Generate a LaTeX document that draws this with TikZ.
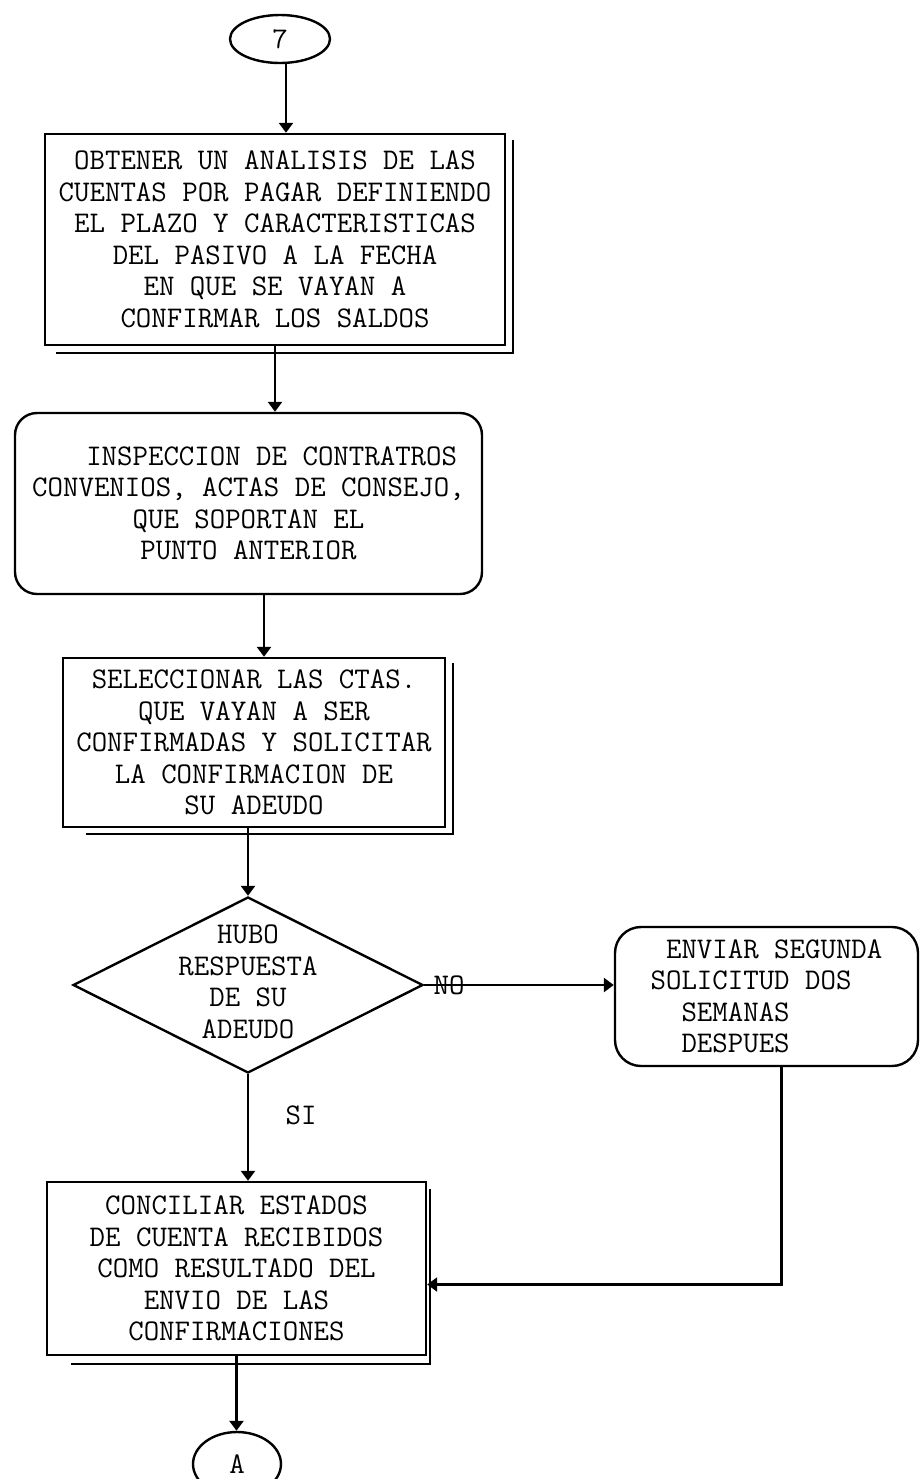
\documentclass[tikz,border=0pt]{standalone}
\usepackage{fontspec}
\usetikzlibrary{shapes.geometric, arrows.meta, calc}

\begin{document}
\begin{tikzpicture}[x=0.5pt, y=-0.5pt,
  every node/.style={font=\ttfamily\fontsize{15}{15.75}\selectfont},
  flow/.style={draw, line width=1.2pt, inner sep=0pt, align=center},
  proc/.style={flow, rectangle},
  rproc/.style={flow, rectangle, rounded corners=11pt},
  decision/.style={flow, diamond},
  term/.style={flow, ellipse},
  arrow/.style={line width=1.2pt, -{Triangle[length=5pt,width=7pt]}},
  shadowline/.style={line width=1.2pt},
]
\useasboundingbox (0,0) rectangle (921,1479);
\clip (0,0) rectangle (921,1479);

% connector in
\node[term, minimum width=50pt, minimum height=24pt] (c7) at (280,39) {7};

% process steps
\node[proc, minimum width=230pt, minimum height=105.5pt] (b1) at (275,239.5)
  {OBTENER UN ANALISIS DE LAS\\CUENTAS POR PAGAR DEFINIENDO\\EL PLAZO Y CARACTERISTICAS\\DEL PASIVO A LA FECHA\\EN QUE SE VAYAN A\\CONFIRMAR LOS SALDOS};

\node[rproc, minimum width=233.5pt, minimum height=90.5pt] (b2) at (248.5,503.5)
  {\phantom{XXX}INSPECCION DE CONTRATROS\\CONVENIOS, ACTAS DE CONSEJO,\\QUE SOPORTAN EL\\PUNTO ANTERIOR};

\node[proc, minimum width=191pt, minimum height=84.5pt] (b3) at (254,742.5)
  {SELECCIONAR LAS CTAS.\\QUE VAYAN A SER\\CONFIRMADAS Y SOLICITAR\\LA CONFIRMACION DE\\SU ADEUDO};

% decision
\node[decision, minimum width=175pt, minimum height=88pt] (d) at (248,985)
  {\raisebox{-3.5pt}[0pt][0pt]{\makebox[0pt]{\begin{tabular}{@{}c@{}}HUBO\\RESPUESTA\\DE SU\\ADEUDO\end{tabular}}}};

\node[rproc, rounded corners=13pt, align=left, minimum width=151.5pt, minimum height=69.5pt] (e) at (766.5,996.5)
  {\phantom{X}ENVIAR SEGUNDA\\SOLICITUD DOS\\\phantom{XX}SEMANAS\\\phantom{XX}DESPUES};

\node[proc, minimum width=189.5pt, minimum height=86.5pt] (b5) at (236.5,1268.5)
  {CONCILIAR ESTADOS\\DE CUENTA RECIBIDOS\\COMO RESULTADO DEL\\ENVIO DE LAS\\CONFIRMACIONES};

% connector out
\node[term, minimum width=44pt, minimum height=32pt] (a) at (237,1464) {A};

% doubled edges on the plain boxes
\draw[shadowline] ($(b1.north east)+(7,7)$) -- ($(b1.south east)+(7,7)$) -- ($(b1.south west)+(12,7)$);
\draw[shadowline] ($(b3.north east)+(7,6)$) -- ($(b3.south east)+(7,6)$) -- ($(b3.south west)+(24,6)$);
\draw[shadowline] ($(b5.north east)+(3,8)$) -- ($(b5.south east)+(3,8)$) -- ($(b5.south west)+(25,8)$);

% flow lines
\coordinate (in1) at ($(b1.north)+(11,0)$);
\draw[arrow] (in1 |- c7.south) -- (in1);
\draw[arrow] (b1.south) -- (b1.south |- b2.north);
\coordinate (in3) at ($(b3.north)+(10,0)$);
\draw[arrow] (in3 |- b2.south) -- (in3);
\draw[arrow] (d.north |- b3.south) -- (d.north);
\draw[arrow] (d.east) -- (d.east -| e.west);
\draw[arrow] (d.south) -- (d.south |- b5.north);
\draw[arrow] ($(e.south)+(15,0)$) |- ($(b5.east)+(0,16)$);
\draw[arrow] (b5.south) -- (b5.south |- a.north);

% branch labels
\node (no) at (449,985) {NO};
\node (si) at (301,1115) {SI};
\end{tikzpicture}
\end{document}
